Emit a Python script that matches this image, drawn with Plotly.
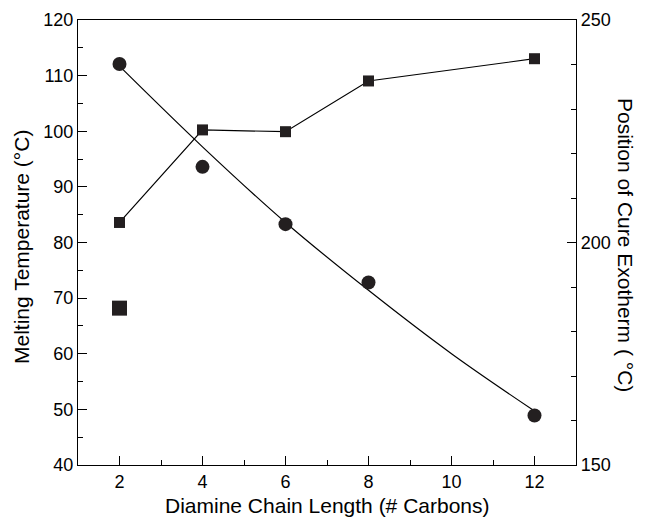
import plotly.graph_objects as go

# Data
chain_length = [2, 4, 6, 8, 12]
melting_temp = [112.1, 93.6, 83.3, 72.8, 48.9]          # circles, left axis
cure_exotherm = [204.5, 225.3, 224.9, 236.3, 241.3]     # squares, right axis
extra_x = [2]
extra_melting = [68.2]                                   # isolated square, left axis
fit_x = [2, 4, 6, 8, 10, 12]
fit_y = [111.7, 97.2, 83.6, 71.4, 60.0, 49.7]            # smooth fit through circles

ink = "#231f20"
font = "Liberation Sans, Arial, sans-serif"
tick_size = 18
title_size = 21

fig = go.Figure()
fig.add_trace(go.Scatter(x=fit_x, y=fit_y, mode="lines", line=dict(color="black", width=1.2, shape="spline"),
                         showlegend=False, hoverinfo="skip"))
fig.add_trace(go.Scatter(x=chain_length, y=melting_temp, mode="markers",
                         marker=dict(symbol="circle", size=14, color=ink), showlegend=False))
fig.add_trace(go.Scatter(x=extra_x, y=extra_melting, mode="markers",
                         marker=dict(symbol="square", size=15, color=ink), showlegend=False))
fig.add_trace(go.Scatter(x=chain_length, y=cure_exotherm, mode="lines+markers", yaxis="y2",
                         line=dict(color="black", width=1.2),
                         marker=dict(symbol="square", size=11, color=ink), showlegend=False))

axis_common = dict(showgrid=False, zeroline=False, showline=True, linecolor="black", linewidth=1.2,
                   ticks="inside", ticklen=9, tickwidth=1.2, tickcolor="black", automargin=False,
                   tickfont=dict(family=font, size=tick_size, color="black"))

# page has an 8px body margin; compute figure-pixel margins so the plot area lands at
# x 78..576, y 20..465 in the browser window
W, H = 649, 522
off = 8
L, R, T, B = 78 - off, W - (576 - off), 20 - off, H - (465 - off)

fig.update_layout(
    width=W, height=H,
    margin=dict(l=L, r=R, t=T, b=B, autoexpand=False),
    paper_bgcolor="white", plot_bgcolor="white",
    font=dict(family=font, size=tick_size, color="black"),
    xaxis=dict(range=[1, 13], tickvals=[2, 4, 6, 8, 10, 12], mirror=True,
               minor=dict(tickvals=[3, 5, 7, 9, 11], ticks="inside", ticklen=5, tickwidth=1.2, tickcolor="black"),
               **axis_common),
    yaxis=dict(range=[40, 120], dtick=10,
               minor=dict(dtick=5, ticks="inside", ticklen=5, tickwidth=1.2, tickcolor="black"),
               **axis_common),
    yaxis2=dict(range=[150, 250], dtick=50, overlaying="y", side="right",
                minor=dict(dtick=10, ticks="inside", ticklen=5, tickwidth=1.2, tickcolor="black"),
                **axis_common),
)

pw, ph = W - L - R, H - T - B
def px(x): return (x - off - L) / pw
def py(y): return (H - B - (y - off)) / ph

fig.layout.annotations = [
    dict(text="Diamine Chain Length (# Carbons)", x=px(327), y=py(505), xref="paper", yref="paper",
         showarrow=False, font=dict(family=font, size=title_size), xanchor="center", yanchor="middle"),
    dict(text="Melting Temperature (°C)", x=px(21), y=py(247), xref="paper", yref="paper",
         showarrow=False, textangle=-90, font=dict(family=font, size=title_size), xanchor="center", yanchor="middle"),
    dict(text="Position of Cure Exotherm ( °C)", x=px(626), y=py(245), xref="paper", yref="paper",
         showarrow=False, textangle=90, font=dict(family=font, size=title_size), xanchor="center", yanchor="middle"),
]

fig.write_html("out.html")
